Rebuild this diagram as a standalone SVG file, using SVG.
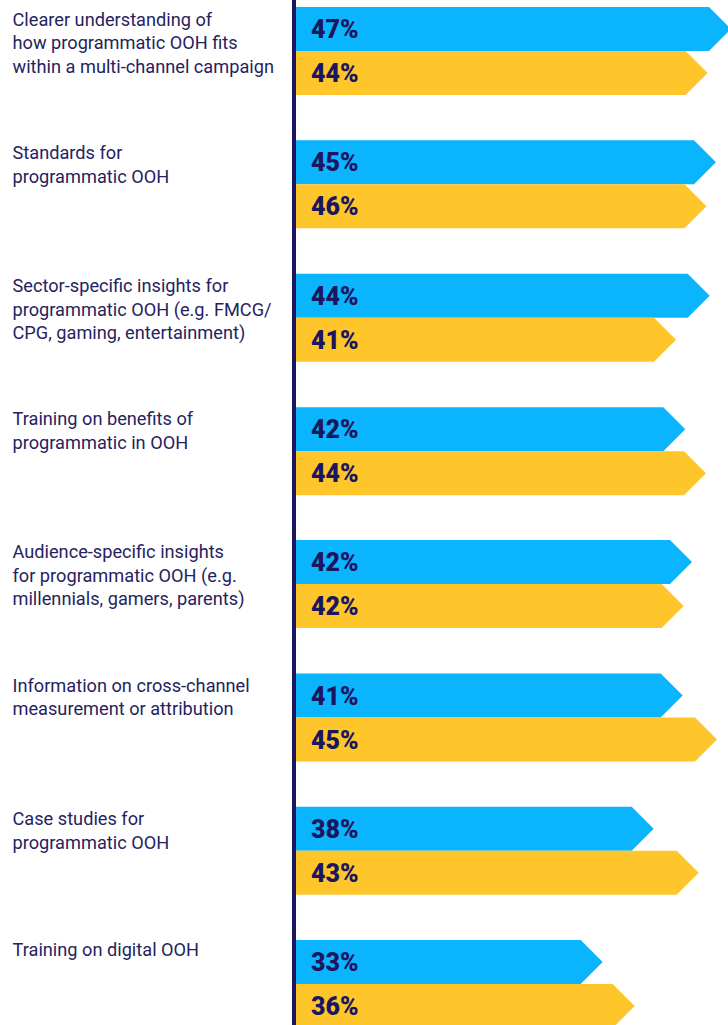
<svg xmlns="http://www.w3.org/2000/svg" width="728" height="1025" viewBox="0 0 728 1025">
<style>
.lbl{font-family:Roboto,"Liberation Sans",sans-serif;font-size:18.2px;fill:#25235E}
.pct{font-family:Roboto,"Liberation Sans",sans-serif;font-size:25px;font-weight:900;fill:#1B1660}
.blue{fill:#0BB5FD}
.yel{fill:#FEC62A}
</style>
<rect width="728" height="1025" fill="#ffffff"/>
<g id="connectors">
<line x1="294" y1="0" x2="294" y2="1025" stroke="#1B1660" stroke-width="4"/>
</g>
<g id="item1">
<text class="lbl" x="12.5" y="25.5">Clearer understanding of</text>
<text class="lbl" x="12.5" y="49">how programmatic OOH fits</text>
<text class="lbl" x="12.5" y="72.5">within a multi-channel campaign</text>
<polygon class="blue" points="296,7 709,7 731,29 709,51 296,51"/>
<polygon class="yel" points="296,51 685.7,51 707.7,73 685.7,95 296,95"/>
<text class="pct" x="311" y="38">47%</text>
<text class="pct" x="311" y="82">44%</text>
</g>
<g id="item2">
<text class="lbl" x="12.5" y="159">Standards for</text>
<text class="lbl" x="12.5" y="182.5">programmatic OOH</text>
<polygon class="blue" points="296,140.3 694,140.3 716,162.3 694,184.3 296,184.3"/>
<polygon class="yel" points="296,184.3 684.5,184.3 706.5,206.3 684.5,228.3 296,228.3"/>
<text class="pct" x="311" y="171.3">45%</text>
<text class="pct" x="311" y="215.3">46%</text>
</g>
<g id="item3">
<text class="lbl" x="12.5" y="292">Sector-specific insights for</text>
<text class="lbl" x="12.5" y="315.5">programmatic OOH (e.g. FMCG/</text>
<text class="lbl" x="12.5" y="339">CPG, gaming, entertainment)</text>
<polygon class="blue" points="296,273.7 687.7,273.7 709.7,295.7 687.7,317.7 296,317.7"/>
<polygon class="yel" points="296,317.7 654,317.7 676,339.7 654,361.7 296,361.7"/>
<text class="pct" x="311" y="304.7">44%</text>
<text class="pct" x="311" y="348.7">41%</text>
</g>
<g id="item4">
<text class="lbl" x="12.5" y="425">Training on benefits of</text>
<text class="lbl" x="12.5" y="448.5">programmatic in OOH</text>
<polygon class="blue" points="296,407.3 663.3,407.3 685.3,429.3 663.3,451.3 296,451.3"/>
<polygon class="yel" points="296,451.3 684,451.3 706,473.3 684,495.3 296,495.3"/>
<text class="pct" x="311" y="438.3">42%</text>
<text class="pct" x="311" y="482.3">44%</text>
</g>
<g id="item5">
<text class="lbl" x="12.5" y="558">Audience-specific insights</text>
<text class="lbl" x="12.5" y="581.5">for programmatic OOH (e.g.</text>
<text class="lbl" x="12.5" y="605">millennials, gamers, parents)</text>
<polygon class="blue" points="296,540 670,540 692,562 670,584 296,584"/>
<polygon class="yel" points="296,584 661.7,584 683.7,606 661.7,628 296,628"/>
<text class="pct" x="311" y="571">42%</text>
<text class="pct" x="311" y="615">42%</text>
</g>
<g id="item6">
<text class="lbl" x="12.5" y="691.5">Information on cross-channel</text>
<text class="lbl" x="12.5" y="715">measurement or attribution</text>
<polygon class="blue" points="296,673.5 660.7,673.5 682.7,695.5 660.7,717.5 296,717.5"/>
<polygon class="yel" points="296,717.5 695,717.5 717,739.5 695,761.5 296,761.5"/>
<text class="pct" x="311" y="704.5">41%</text>
<text class="pct" x="311" y="748.5">45%</text>
</g>
<g id="item7">
<text class="lbl" x="12.5" y="825">Case studies for</text>
<text class="lbl" x="12.5" y="848.5">programmatic OOH</text>
<polygon class="blue" points="296,806.8 631.7,806.8 653.7,828.8 631.7,850.8 296,850.8"/>
<polygon class="yel" points="296,850.8 676.7,850.8 698.7,872.8 676.7,894.8 296,894.8"/>
<text class="pct" x="311" y="837.8">38%</text>
<text class="pct" x="311" y="881.8">43%</text>
</g>
<g id="item8">
<text class="lbl" x="12.5" y="956">Training on digital OOH</text>
<polygon class="blue" points="296,940 580.7,940 602.7,962 580.7,984 296,984"/>
<polygon class="yel" points="296,984 612.7,984 634.7,1006 612.7,1028 296,1028"/>
<text class="pct" x="311" y="971">33%</text>
<text class="pct" x="311" y="1015">36%</text>
</g>
</svg>
